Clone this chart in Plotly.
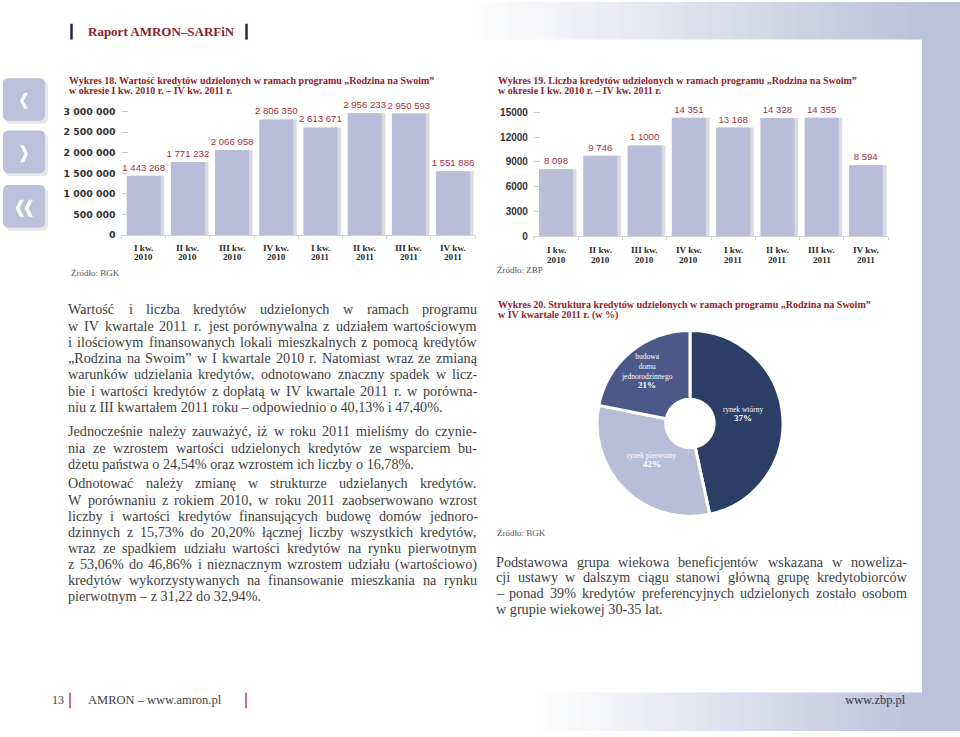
import math
import plotly.graph_objects as go

# ---------------- data ----------------
quarter_lbl = ["I kw.", "II kw.", "III kw.", "IV kw.", "I kw.", "II kw.", "III kw.", "IV kw."]
year_lbl = ["2010", "2010", "2010", "2010", "2011", "2011", "2011", "2011"]

credit_value = [1443268, 1771232, 2066958, 2806350, 2613671, 2956233, 2950593, 1551886]
value_ticks = [0, 500000, 1000000, 1500000, 2000000, 2500000, 3000000]

credit_count = [8098, 9746, 11000, 14351, 13168, 14328, 14355, 8594]
count_labels = ["8 098", "9 746", "1 1000", "14 351", "13 168", "14 328", "14 355", "8 594"]
count_ticks = [0, 3000, 6000, 9000, 12000, 15000]

structure_names = ["rynek wtórny", "rynek pierwotny", "budowa<br>domu<br>jednorodzinnego"]
structure_pct_text = ["37%", "42%", "21%"]
structure_share = [46.6, 31.5, 21.9]   # wedge sizes as drawn

# ---------------- style ----------------
W, H = 960, 737
SERIF = "Liberation Serif"
SANS = "Liberation Sans"
BAR = "#b9bdd7"
LAV = (188, 193, 218)
TITLE_RED = "#8e1d2d"
VAL_RED = "#a3303d"
TXT = "#3d3d3d"
NAVY = "#1f2a48"

def fx(x):
    return x / W

def fy(y):
    return 1 - y / H

def rgb(t):
    r = round(255 + (LAV[0] - 255) * t)
    g = round(255 + (LAV[1] - 255) * t)
    b = round(255 + (LAV[2] - 255) * t)
    return f"rgb({r},{g},{b})"

shapes = []
annotations = []

def rect(x0, y0, x1, y1, color, layer="below"):
    shapes.append(dict(type="rect", xref="paper", yref="paper", x0=fx(x0), x1=fx(x1),
                       y0=fy(y1), y1=fy(y0), fillcolor=color, line=dict(width=0), layer=layer))

def path(pts, color, layer="below"):
    d = "M " + " L ".join(f"{fx(x):.5f},{fy(y):.5f}" for x, y in pts) + " Z"
    shapes.append(dict(type="path", xref="paper", yref="paper", path=d, fillcolor=color,
                       line=dict(width=0), layer=layer))

def vline(x, y0, y1, color, w):
    shapes.append(dict(type="line", xref="paper", yref="paper", x0=fx(x), x1=fx(x),
                       y0=fy(y0), y1=fy(y1), line=dict(color=color, width=w)))

def text(x, y, s, size, color=TXT, family=SERIF, weight="normal", xanchor="left", align="left"):
    annotations.append(dict(xref="paper", yref="paper", x=fx(x), y=fy(y), text=s, showarrow=False,
                            xanchor=xanchor, yanchor="middle", align=align, borderpad=0, borderwidth=0,
                            font=dict(family=family, size=size, color=color, weight=weight)))

# Times / Liberation Serif advance widths (per 1000 em) for justification
TW = {" ": 250, "!": 333, '"': 408, "%": 833, "'": 180, "(": 333, ")": 333, ",": 250, "-": 333,
      ".": 250, "/": 278, ":": 278, ";": 278, "„": 444, "”": 444, "–": 500,
      "A": 722, "B": 667, "C": 667, "D": 722, "E": 611, "F": 556, "G": 722, "H": 722, "I": 333,
      "J": 389, "K": 722, "L": 611, "M": 889, "N": 722, "O": 722, "P": 556, "Q": 722, "R": 667,
      "S": 556, "T": 611, "U": 722, "V": 722, "W": 944, "X": 722, "Y": 722, "Z": 611,
      "a": 444, "b": 500, "c": 444, "d": 500, "e": 444, "f": 333, "g": 500, "h": 500, "i": 278,
      "j": 278, "k": 500, "l": 278, "m": 778, "n": 500, "o": 500, "p": 500, "q": 500, "r": 333,
      "s": 389, "t": 278, "u": 500, "v": 500, "w": 722, "x": 500, "y": 500, "z": 444}
BASE = {"ą": "a", "ć": "c", "ę": "e", "ł": "l", "ń": "n", "ó": "o", "ś": "s", "ź": "z", "ż": "z",
        "Ś": "S", "Ż": "Z", "Ł": "L", "Ź": "Z"}

def twidth(s, fs):
    return sum(TW.get(BASE.get(ch, ch), 500) for ch in s) / 1000 * fs

# ---------------- background ----------------
N = 36
for i in range(N):
    x0 = 470 + (922 - 470) * i / N
    x1 = 470 + (922 - 470) * (i + 1) / N + 0.6
    rect(x0, 0, x1, 38, rgb((i + 0.5) / N))
for i in range(N):
    x0 = 537 + (922 - 537) * i / N
    x1 = 537 + (922 - 537) * (i + 1) / N + 0.6
    rect(x0, 698, x1, 737, rgb((i + 0.5) / N))
rect(922, 0, 960, 737, rgb(1.0))

def rounded(x0, y0, x1, y1, r, color):
    pts = []
    for cx, cy, a0 in [(x1 - r, y0 + r, -90), (x1 - r, y1 - r, 0), (x0 + r, y1 - r, 90), (x0 + r, y0 + r, 180)]:
        for k in range(5):
            a = math.radians(a0 + 90 * k / 4)
            pts.append((cx + r * math.cos(a), cy + r * math.sin(a)))
    path(pts, color)

for (y0, y1) in [(77, 120), (130, 173), (185, 228)]:
    rounded(5, y0 + 3, 48, y1 + 3, 5, "rgba(120,120,130,0.18)")
    rounded(3, y0, 45, y1, 5, "#bcc0da")
path([(28, 92), (23.5, 100), (28, 108), (24, 108), (20, 100), (24, 92)], "white", layer="above")
path([(20, 145), (24.5, 153.5), (20, 162), (24, 162), (28, 153.5), (24, 145)], "white", layer="above")
path([(24, 200), (19.5, 208.5), (24, 217), (20, 217), (15.5, 208.5), (20, 200)], "white", layer="above")
path([(33, 200), (28.5, 208.5), (33, 217), (29, 217), (24.5, 208.5), (29, 200)], "white", layer="above")

# header & footer
vline(71.5, 22, 38, NAVY, 2.5)
vline(246.5, 22, 38, NAVY, 2.5)
text(88, 30, "Raport AMRON–SARFiN", 13, TITLE_RED, SERIF, "bold")
vline(70, 698, 714, "#a0303a", 1.3)
vline(246, 698, 714, "#a0303a", 1.3)
text(64, 706, "13", 12, TXT, SERIF, xanchor="right")
text(88, 706, "AMRON – www.amron.pl", 12.5, TXT, SERIF)
text(906, 706, "www.zbp.pl", 12.5, "#2d3347", SERIF, xanchor="right")

# chart titles & sources
TS = 10
text(69, 79.5, "Wykres 18. Wartość kredytów udzielonych w ramach programu „Rodzina na Swoim”", TS, TITLE_RED, SERIF, "bold")
text(69, 89.5, "w okresie I kw. 2010 r. – IV kw. 2011 r.", TS, TITLE_RED, SERIF, "bold")
text(498, 79.5, "Wykres 19. Liczba kredytów udzielonych w ramach programu „Rodzina na Swoim”", TS, TITLE_RED, SERIF, "bold")
text(498, 89.5, "w okresie I kw. 2010 r. – IV kw. 2011 r.", TS, TITLE_RED, SERIF, "bold")
text(498, 306, "Wykres 20. Struktura kredytów udzielonych w ramach programu „Rodzina na Swoim”", TS, TITLE_RED, SERIF, "bold")
text(498, 316.5, "w IV kwartale 2011 r. (w %)", TS, TITLE_RED, SERIF, "bold")
text(71, 274, "Źródło: BGK", 9, "#555", SERIF)
text(497, 271, "Źródło: ZBP", 9, "#555", SERIF)
text(497, 537, "Źródło: BGK", 9, "#555", SERIF)

# body text (justified)
block1 = [
    "Wartość i liczba kredytów udzielonych w ramach programu",
    "w IV kwartale 2011 r. jest porównywalna z udziałem wartościowym",
    "i ilościowym finansowanych lokali mieszkalnych z pomocą kredytów",
    "„Rodzina na Swoim” w I kwartale 2010 r. Natomiast wraz ze zmianą",
    "warunków udzielania kredytów, odnotowano znaczny spadek w licz-",
    "bie i wartości kredytów z dopłatą w IV kwartale 2011 r. w porówna-",
    "niu z III kwartałem 2011 roku – odpowiednio o 40,13% i 47,40%.",
]
block2 = [
    "Jednocześnie należy zauważyć, iż w roku 2011 mieliśmy do czynie-",
    "nia ze wzrostem wartości udzielonych kredytów ze wsparciem bu-",
    "dżetu państwa o 24,54% oraz wzrostem ich liczby o 16,78%.",
]
block3 = [
    "Odnotować należy zmianę w strukturze udzielanych kredytów.",
    "W porównaniu z rokiem 2010, w roku 2011 zaobserwowano wzrost",
    "liczby i wartości kredytów finansujących budowę domów jednoro-",
    "dzinnych z 15,73% do 20,20% łącznej liczby wszystkich kredytów,",
    "wraz ze spadkiem udziału wartości kredytów na rynku pierwotnym",
    "z 53,06% do 46,86% i nieznacznym wzrostem udziału (wartościowo)",
    "kredytów wykorzystywanych na finansowanie mieszkania na rynku",
    "pierwotnym – z 31,22 do 32,94%.",
]
block4 = [
    "Podstawowa grupa wiekowa beneficjentów wskazana w noweliza-",
    "cji ustawy w dalszym ciągu stanowi główną grupę kredytobiorców",
    "– ponad 39% kredytów preferencyjnych udzielonych zostało osobom",
    "w grupie wiekowej 30-35 lat.",
]
FS = 14.2
for lines, x0, x1, y0, dy in [(block1, 68, 477, 310.7, 16.45), (block2, 68, 477, 434, 16.4),
                              (block3, 68, 477, 486.7, 16.33), (block4, 496, 907, 565.7, 16.1)]:
    for i, ln in enumerate(lines):
        y = y0 + i * dy
        words = ln.split(" ")
        if i == len(lines) - 1 or len(words) < 2:
            text(x0, y, ln, FS, TXT, SERIF)
            continue
        ws = [twidth(w, FS) for w in words]
        gap = (x1 - x0 - sum(ws)) / (len(words) - 1)
        x = x0
        for j, w in enumerate(words):
            text(x, y, w, FS, TXT, SERIF)
            x += ws[j] + gap

# ---------------- charts ----------------
def fmt_sp(v):
    return f"{v:,}".replace(",", " ")

xs = list(range(len(credit_value)))
BW = 0.77
fig = go.Figure()

fig.add_trace(go.Bar(x=xs, y=credit_value, xaxis="x", yaxis="y", width=BW, offset=-BW / 2 + 0.08,
                     marker=dict(color="#d9dae0", line=dict(width=0)), hoverinfo="skip"))
fig.add_trace(go.Bar(x=xs, y=credit_value, xaxis="x", yaxis="y", width=BW, offset=-BW / 2,
                     marker=dict(color=BAR, line=dict(width=0)),
                     text=[fmt_sp(v) for v in credit_value], textposition="outside", textangle=0,
                     constraintext="none", cliponaxis=False,
                     textfont=dict(family=SANS, size=9.6, color=VAL_RED)))
fig.add_trace(go.Bar(x=xs, y=credit_count, xaxis="x2", yaxis="y2", width=BW, offset=-BW / 2 + 0.08,
                     marker=dict(color="#d9dae0", line=dict(width=0)), hoverinfo="skip"))
fig.add_trace(go.Bar(x=xs, y=credit_count, xaxis="x2", yaxis="y2", width=BW, offset=-BW / 2,
                     marker=dict(color=BAR, line=dict(width=0)),
                     text=count_labels, textposition="outside", textangle=0,
                     constraintext="none", cliponaxis=False,
                     textfont=dict(family=SANS, size=9.6, color=VAL_RED)))

cx, cy, R = 690, 426, 94
fig.add_trace(go.Pie(values=structure_share, labels=[s.replace("<br>", " ") for s in structure_names],
                     sort=False, direction="clockwise", rotation=0, hole=0.26,
                     marker=dict(colors=["#2c3d66", "#b9bed8", "#4a5987"], line=dict(color="white", width=3)),
                     textinfo="none", showlegend=False,
                     domain=dict(x=[fx(cx - R), fx(cx + R)], y=[fy(cy + R), fy(cy - R)])))
pie_label_pos = [(743, 412, 421), (652, 458, 467), (647, 369, 387)]
for name, pct, (lx, ly, py) in zip(structure_names, structure_pct_text, pie_label_pos):
    text(lx, ly, name, 7.5, "white", SERIF, xanchor="center", align="center")
    text(lx, py, pct, 9, "white", SERIF, "bold", xanchor="center", align="center")

for ax, ytop in [("x", 248.2), ("x2", 250.4)]:
    for i in xs:
        for s, yy in [(quarter_lbl[i], ytop), (year_lbl[i], ytop + 10)]:
            annotations.append(dict(xref=ax, yref="paper", x=i, y=fy(yy), text=s, showarrow=False,
                                    xanchor="center", yanchor="middle", borderpad=0, borderwidth=0,
                                    font=dict(family=SERIF, size=9.2, color="#2a2a2a", weight="bold")))

xcommon = dict(range=[-0.5, 7.5], showticklabels=False, showgrid=False, zeroline=False,
               showline=True, linecolor="#d2d2d2", linewidth=1, ticks="outside", ticklen=3,
               tickcolor="#d2d2d2", tickvals=[-0.5, 0.5, 1.5, 2.5, 3.5, 4.5, 5.5, 6.5, 7.5], fixedrange=True)
ycommon = dict(showgrid=False, zeroline=False, showline=False, ticks="inside", ticklen=6,
               tickcolor="#c9c9c9", ticklabelstandoff=5, fixedrange=True)

fig.update_layout(
    width=W, height=H, margin=dict(l=0, r=0, t=0, b=0),
    paper_bgcolor="white", plot_bgcolor="rgba(0,0,0,0)",
    separators=", ", barmode="overlay", showlegend=False,
    xaxis=dict(domain=[fx(121.6), fx(475.1)], anchor="y", **xcommon),
    yaxis=dict(domain=[fy(235.7), fy(106.5)], anchor="x", range=[0, 3100000], tickvals=value_ticks,
               tickformat=",d", tickfont=dict(family="DejaVu Sans", size=9.4, color="#333", weight="bold"),
               **ycommon),
    xaxis2=dict(domain=[fx(533.9), fx(888.1)], anchor="y2", **xcommon),
    yaxis2=dict(domain=[fy(236.7), fy(107.5)], anchor="x2", range=[0, 15500], tickvals=count_ticks,
                tickformat="d", tickfont=dict(family=SANS, size=10, color="#333", weight="bold"),
                **ycommon),
    shapes=shapes, annotations=annotations,
)

fig.write_html("out.html")
